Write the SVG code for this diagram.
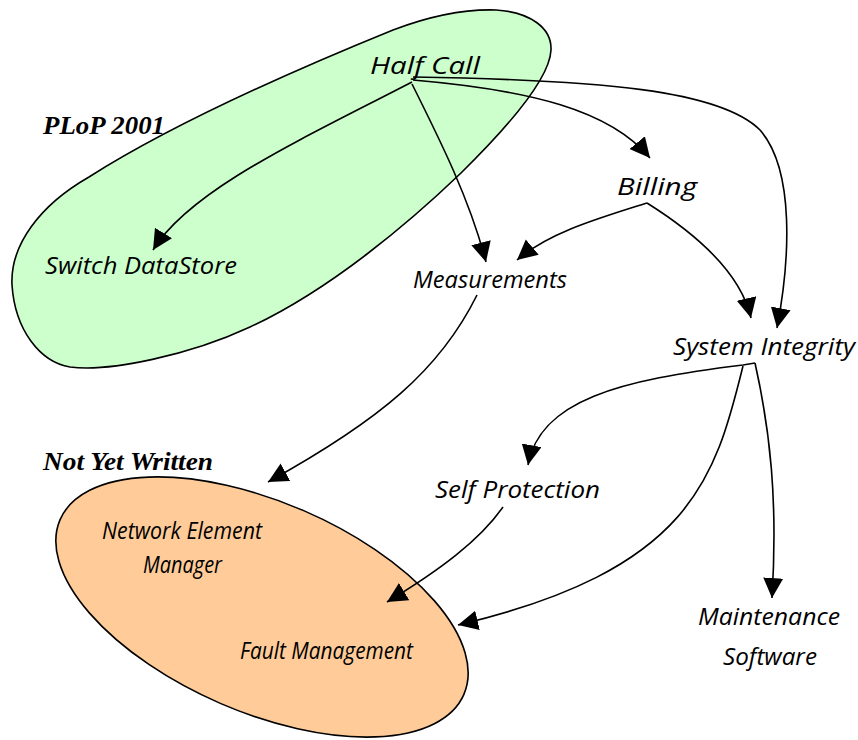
<svg xmlns="http://www.w3.org/2000/svg" width="858" height="740" viewBox="0 0 858 740">
<style>
.bg{fill:#ffffff}
.grp{stroke:#000;stroke-width:1.6}
.lbl{font-family:"Open Sans","DejaVu Sans",sans-serif;font-style:italic;font-size:23px;fill:#000;text-anchor:start}
.title{font-family:"Liberation Serif","Times New Roman",serif;font-style:italic;font-weight:bold;font-size:25px;fill:#000}
.edge{fill:none;stroke:#000;stroke-width:1.6}
</style>
<defs>
<marker id="arr" markerUnits="userSpaceOnUse" markerWidth="22" markerHeight="22" refX="20" refY="10" orient="auto">
<path d="M0,0 L20,10 L0,20 Z" fill="#000"/>
</marker>
</defs>
<rect class="bg" x="0" y="0" width="858" height="740"/>
<g id="plop2001">
<path class="grp" fill="#ccffcc" d="M496,10 C530,12 552,28 551,50 C550,75 520,115 461,173 C410,222 330,290 250,327 C190,355 110,372 70,367 C40,362 15,330 12,285 C10,245 40,205 89,177 C160,132 270,80 393,30 C430,16 465,9 496,10 Z"/>
<text class="title" x="43" y="134" textLength="122" lengthAdjust="spacingAndGlyphs">PLoP 2001</text>
</g>
<g id="notyetwritten">
<ellipse class="grp" fill="#ffcc99" cx="262" cy="607" rx="220" ry="105" transform="rotate(23.4 262 607)"/>
<text class="title" x="43" y="470" textLength="170" lengthAdjust="spacingAndGlyphs">Not Yet Written</text>
</g>
<g id="halfcall"><text class="lbl" x="370" y="74" textLength="110" lengthAdjust="spacingAndGlyphs">Half Call</text></g>
<g id="switchdatastore"><text class="lbl" x="45" y="274" textLength="192" lengthAdjust="spacingAndGlyphs">Switch DataStore</text></g>
<g id="billing"><text class="lbl" x="617" y="195" textLength="80" lengthAdjust="spacingAndGlyphs">Billing</text></g>
<g id="measurements"><text class="lbl" x="413" y="288" textLength="154" lengthAdjust="spacingAndGlyphs">Measurements</text></g>
<g id="systemintegrity"><text class="lbl" x="673" y="355" textLength="182" lengthAdjust="spacingAndGlyphs">System Integrity</text></g>
<g id="selfprotection"><text class="lbl" x="435" y="498" textLength="165" lengthAdjust="spacingAndGlyphs">Self Protection</text></g>
<g id="maintenancesoftware">
<text class="lbl" x="698" y="625" textLength="142" lengthAdjust="spacingAndGlyphs">Maintenance</text>
<text class="lbl" x="723" y="665" textLength="94" lengthAdjust="spacingAndGlyphs">Software</text>
</g>
<g id="networkelementmanager">
<text class="lbl" x="102" y="539" textLength="160" lengthAdjust="spacingAndGlyphs">Network Element</text>
<text class="lbl" x="143" y="573" textLength="79" lengthAdjust="spacingAndGlyphs">Manager</text>
</g>
<g id="faultmanagement"><text class="lbl" x="240" y="659" textLength="173" lengthAdjust="spacingAndGlyphs">Fault Management</text></g>
<g id="connectors">
<path class="edge" marker-end="url(#arr)" d="M412,82 C300,140 190,190 153,250"/>
<path class="edge" marker-end="url(#arr)" d="M412,84 C440,140 470,200 486,262"/>
<path class="edge" marker-end="url(#arr)" d="M413,80 C530,90 610,110 650,158"/>
<path class="edge" marker-end="url(#arr)" d="M413,77 C600,80 720,90 760,130 C795,170 790,260 777,328"/>
<path class="edge" marker-end="url(#arr)" d="M647,203 C600,218 550,232 517,260"/>
<path class="edge" marker-end="url(#arr)" d="M647,203 C690,230 740,270 751,318"/>
<path class="edge" marker-end="url(#arr)" d="M477,295 C440,370 380,420 268,482"/>
<path class="edge" marker-end="url(#arr)" d="M755,363 L743,365 C620,380 540,400 528,465"/>
<path class="edge" marker-end="url(#arr)" d="M743,366 C715,480 690,570 458,625"/>
<path class="edge" marker-end="url(#arr)" d="M755,363 C770,430 778,500 772,598"/>
<path class="edge" marker-end="url(#arr)" d="M503,507 C480,540 440,570 387,602"/>
</g>
</svg>
